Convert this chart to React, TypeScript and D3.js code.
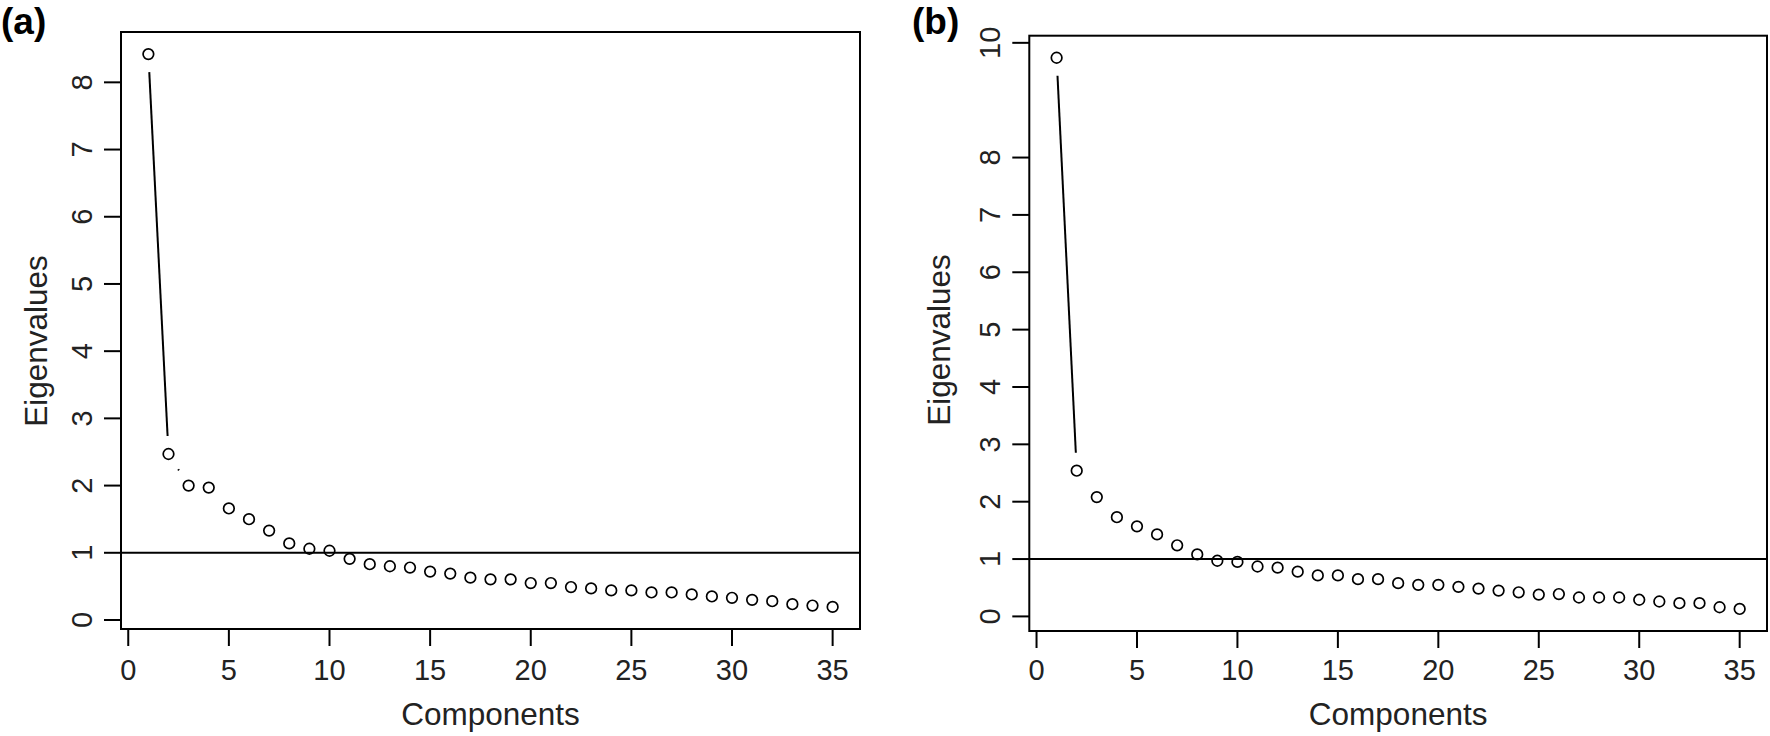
import React from "react";
import * as d3 from "d3";

// ---------- data ----------
const components = [1, 2, 3, 4, 5, 6, 7, 8, 9, 10, 11, 12, 13, 14, 15, 16, 17, 18, 19, 20, 21, 22, 23, 24, 25, 26, 27, 28, 29, 30, 31, 32, 33, 34, 35];

const eigenA = [8.42, 2.47, 2.0, 1.97, 1.66, 1.5, 1.33, 1.14, 1.06, 1.03, 0.91, 0.83, 0.8, 0.78, 0.72, 0.69, 0.63, 0.605, 0.605, 0.55, 0.55, 0.49, 0.47, 0.44, 0.44, 0.41, 0.41, 0.38, 0.35, 0.33, 0.3, 0.28, 0.235, 0.215, 0.195];

const eigenB = [9.74, 2.54, 2.08, 1.73, 1.57, 1.43, 1.24, 1.08, 0.97, 0.95, 0.87, 0.85, 0.78, 0.715, 0.715, 0.65, 0.65, 0.58, 0.55, 0.55, 0.515, 0.485, 0.45, 0.42, 0.38, 0.39, 0.33, 0.33, 0.33, 0.29, 0.26, 0.23, 0.23, 0.16, 0.13];

const xTicks = [0, 5, 10, 15, 20, 25, 30, 35];
const yTicksA = [0, 1, 2, 3, 4, 5, 6, 7, 8];
const yTicksB = [0, 1, 2, 3, 4, 5, 6, 7, 8, 10];
const refLine = 1;

const panelLabels = ["(a)", "(b)"];
const xTitle = "Components";
const yTitle = "Eigenvalues";

// ---------- style ----------
const FONT = "'Liberation Sans', Arial, Helvetica, sans-serif";
const TICK_FS = 29;
const TITLE_FS = 31.5;
const TICK_LEN = 17;
const GAP = 18;

type Box = { left: number; right: number; top: number; bottom: number };

function Panel({
  values,
  yTicks,
  box,
  label,
  labelX,
  yLabelX,
  yTitleX,
  yTitleY,
}: {
  values: number[];
  yTicks: number[];
  box: Box;
  label: string;
  labelX: number;
  yLabelX: number;
  yTitleX: number;
  yTitleY: number;
}) {
  const xExt = d3.extent(components) as [number, number];
  const xr = xExt[1] - xExt[0];
  const x = d3
    .scaleLinear()
    .domain([xExt[0] - 0.04 * xr, xExt[1] + 0.04 * xr])
    .range([box.left, box.right]);
  const yExt = d3.extent(values) as [number, number];
  const yr = yExt[1] - yExt[0];
  const y = d3
    .scaleLinear()
    .domain([yExt[0] - 0.04 * yr, yExt[1] + 0.04 * yr])
    .range([box.bottom, box.top]);

  const pts = components.map((c, i) => [x(c), y(values[i])] as [number, number]);
  const segs: [number, number, number, number][] = [];
  for (let i = 0; i < pts.length - 1; i++) {
    const [x1, y1] = pts[i];
    const [x2, y2] = pts[i + 1];
    const dx = x2 - x1;
    const dy = y2 - y1;
    const d = Math.hypot(dx, dy);
    if (d > 2 * GAP) {
      const ux = dx / d;
      const uy = dy / d;
      segs.push([x1 + ux * GAP, y1 + uy * GAP, x2 - ux * GAP, y2 - uy * GAP]);
    }
  }
  const cx = (box.left + box.right) / 2;

  return (
    <g>
      <text x={labelX} y={33.5} fontSize={37} fontWeight="bold" fontFamily={FONT} fill="#000">
        {label}
      </text>
      {/* plot box */}
      <rect
        x={box.left}
        y={box.top}
        width={box.right - box.left}
        height={box.bottom - box.top}
        fill="none"
        stroke="#000"
        strokeWidth={2}
      />
      {/* reference line */}
      <line x1={box.left} x2={box.right} y1={y(refLine)} y2={y(refLine)} stroke="#000" strokeWidth={2} />
      {/* segments (type = "b") */}
      {segs.map((s, i) => (
        <line key={"s" + i} x1={s[0]} y1={s[1]} x2={s[2]} y2={s[3]} stroke="#000" strokeWidth={2} />
      ))}
      {/* points */}
      {pts.map((p, i) => (
        <circle key={"p" + i} cx={p[0]} cy={p[1]} r={5.3} fill="none" stroke="#000" strokeWidth={1.7} />
      ))}
      {/* x axis */}
      {xTicks.map((t) => (
        <g key={"xt" + t}>
          <line x1={x(t)} x2={x(t)} y1={box.bottom} y2={box.bottom + TICK_LEN} stroke="#000" strokeWidth={2} />
          <text x={x(t)} y={680} fontSize={TICK_FS} fontFamily={FONT} textAnchor="middle" fill="#222">
            {t}
          </text>
        </g>
      ))}
      {/* y axis */}
      {yTicks.map((t) => (
        <g key={"yt" + t}>
          <line x1={box.left - TICK_LEN} x2={box.left} y1={y(t)} y2={y(t)} stroke="#000" strokeWidth={2} />
          <text
            transform={`translate(${yLabelX},${y(t)}) rotate(-90)`}
            fontSize={TICK_FS}
            fontFamily={FONT}
            textAnchor="middle"
            fill="#222"
          >
            {t}
          </text>
        </g>
      ))}
      <text x={cx} y={725} fontSize={TITLE_FS} fontFamily={FONT} textAnchor="middle" fill="#222">
        {xTitle}
      </text>
      <text
        transform={`translate(${yTitleX},${yTitleY}) rotate(-90)`}
        fontSize={TITLE_FS}
        fontFamily={FONT}
        textAnchor="middle"
        fill="#222"
      >
        {yTitle}
      </text>
    </g>
  );
}

export default function App() {
  return (
    <svg
      width={1770}
      height={736}
      style={{ position: "absolute", left: 0, top: 0, background: "#fff" }}
      viewBox="0 0 1770 736"
    >
      <rect x={0} y={0} width={1770} height={736} fill="#fff" />
      <Panel
        values={eigenA}
        yTicks={yTicksA}
        box={{ left: 121, right: 860, top: 32, bottom: 629 }}
        label={panelLabels[0]}
        labelX={1}
        yLabelX={92}
        yTitleX={46.5}
        yTitleY={341}
      />
      <Panel
        values={eigenB}
        yTicks={yTicksB}
        box={{ left: 1029.3, right: 1767, top: 35.7, bottom: 631 }}
        label={panelLabels[1]}
        labelX={912}
        yLabelX={1000}
        yTitleX={950}
        yTitleY={340}
      />
    </svg>
  );
}
